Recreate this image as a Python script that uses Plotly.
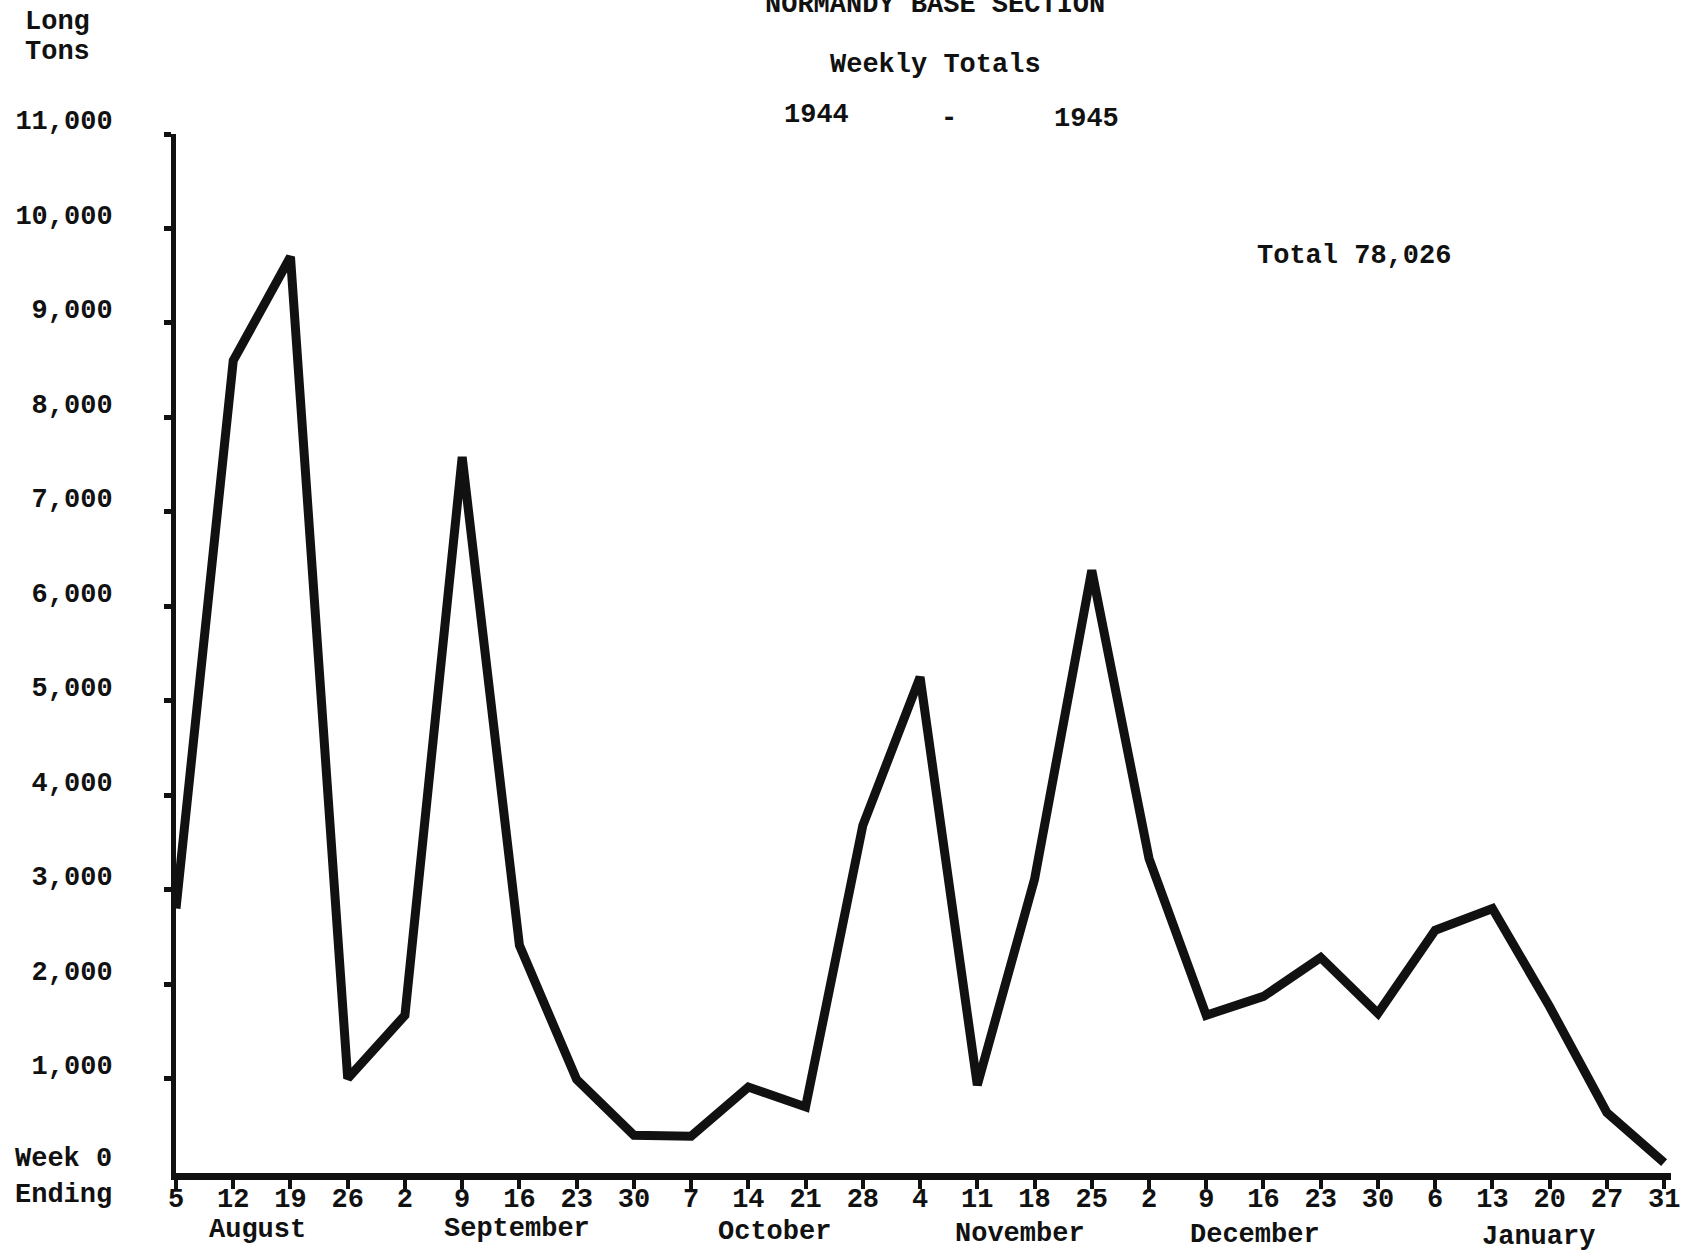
import plotly.graph_objects as go

# --- data ---
week_labels = ["5", "12", "19", "26",
               "2", "9", "16", "23", "30",
               "7", "14", "21", "28",
               "4", "11", "18", "25",
               "2", "9", "16", "23", "30",
               "6", "13", "20", "27", "31"]
long_tons = [2800, 8600, 9700, 1000,
             1670, 7580, 2410, 990, 400,
             390, 910, 700, 3680,
             5250, 930, 3110, 6380,
             3330, 1670, 1870, 2280, 1690,
             2570, 2800, 1760, 640, 110]
months = ["August", "September", "October", "November", "December", "January"]
month_pos = [1.43, 5.95, 10.45, 14.75, 18.85, 23.8]
month_ypix = [1230, 1229, 1232, 1234, 1235, 1237]
y_ticks = [1000, 2000, 3000, 4000, 5000, 6000, 7000, 8000, 9000, 10000, 11000]
y_tick_text = ["1,000", "2,000", "3,000", "4,000", "5,000", "6,000",
               "7,000", "8,000", "9,000", "10,000", "11,000"]

FONT = "Liberation Mono"
INK = "#111111"
FS = 27

x = list(range(len(week_labels)))

fig = go.Figure()
fig.add_trace(go.Scatter(
    x=x, y=long_tons, mode="lines",
    line=dict(color=INK, width=9),
    hoverinfo="skip", showlegend=False,
))

W, H = 1692, 1253
ML, MR, MT, MB = 176, 12, 134, 80

fig.update_layout(
    width=W, height=H, autosize=False,
    margin=dict(l=ML, r=MR, t=MT, b=MB, pad=0),
    paper_bgcolor="white", plot_bgcolor="white",
    font=dict(family=FONT, size=FS, color=INK, weight="bold"),
    showlegend=False,
    xaxis=dict(
        range=[0, 26.12], tickmode="array", tickvals=x, ticktext=week_labels,
        showgrid=False, zeroline=False,
        showline=True, linecolor=INK, linewidth=7,
        ticks="outside", ticklen=9, tickwidth=4, tickcolor=INK,
        tickangle=0, ticklabelstandoff=-14,
        tickfont=dict(family=FONT, size=FS, color=INK, weight="bold"),
    ),
    yaxis=dict(
        range=[0, 11000], tickmode="array", tickvals=y_ticks, ticktext=y_tick_text,
        showgrid=False, zeroline=False,
        showline=True, linecolor=INK, linewidth=5,
        ticks="outside", ticklen=7, tickwidth=5, tickcolor=INK,
        ticklabelstandoff=46, ticklabelshift=-14,
        tickfont=dict(family=FONT, size=FS, color=INK, weight="bold"),
    ),
)

def ann(text, xp, yp, xanchor="center", size=FS):
    fig.add_annotation(text=text, x=xp, y=yp, xref="paper", yref="paper",
                       xanchor=xanchor, yanchor="middle", showarrow=False,
                       font=dict(family=FONT, size=size, color=INK, weight="bold"))

def px(xpix):
    return (xpix - ML) / (W - ML - MR)

def py(ypix):
    return (H - MB - ypix) / (H - MT - MB)

# titles
ann("NORMANDY BASE SECTION", px(940), py(5))
ann("Weekly Totals", px(940), py(65))
ann("1944", px(820), py(115))
ann("-", px(954), py(119))
ann("1945", px(1092), py(119))
ann("Total 78,026", px(1361), py(256))

# axis captions
ann("Long", px(22), py(22), xanchor="left")
ann("Tons", px(22), py(52), xanchor="left")
ann("Week 0", px(12), py(1159), xanchor="left")
ann("Ending", px(12), py(1195), xanchor="left")

# month names under the week ticks
for m, pos, yp in zip(months, month_pos, month_ypix):
    fig.add_annotation(text=m, x=pos, y=py(yp), xref="x", yref="paper",
                       xanchor="center", yanchor="middle", showarrow=False,
                       font=dict(family=FONT, size=FS, color=INK, weight="bold"))

fig.write_html("out.html", config={"displayModeBar": False},
               post_script="document.body.style.margin='0';")
